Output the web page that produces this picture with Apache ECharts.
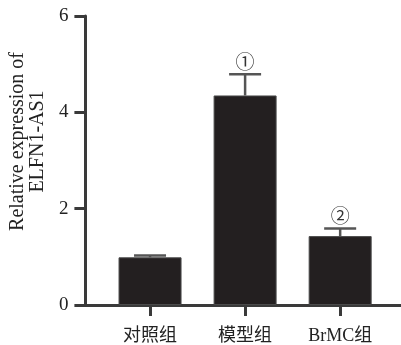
<!DOCTYPE html>
<html>
<head>
<meta charset="utf-8">
<style>html,body{margin:0;padding:0;background:#fff;}#c{width:401px;height:345px;}</style>
<script src="https://cdn.jsdelivr.net/npm/echarts@6/dist/echarts.min.js"></script>
</head>
<body>
<div id="c"></div>
<script>
const categories = ['对照组', '模型组', 'BrMC组'];
const values = [0.99, 4.35, 1.43];
const errors = [0.04, 0.44, 0.16];
const marks = ['', '①', '②'];
const yTicks = [0, 2, 4, 6];

const serif = '"Liberation Serif", "Noto Sans CJK SC", serif';
const axisColor = '#3a3a3a';

const chart = echarts.init(document.getElementById('c'), null, {renderer: 'canvas'});
chart.setOption({
  animation: false,
  backgroundColor: '#ffffff',
  grid: {left: 83, right: 0, top: 16, bottom: 39},
  xAxis: {
    type: 'value',
    min: -0.68,
    max: 2.64,
    axisLine: {show: true, onZero: false, lineStyle: {color: axisColor, width: 3}},
    axisTick: {show: true, customValues: [0, 1, 2], length: 11, lineStyle: {color: axisColor, width: 3}},
    axisLabel: {
      customValues: [0, 1, 2],
      formatter: v => categories[Math.round(v)],
      margin: 22, fontSize: 18, color: '#222', fontFamily: serif
    },
    splitLine: {show: false}
  },
  yAxis: {
    type: 'value',
    min: 0, max: 6, interval: 2,
    name: 'Relative expression of\nELFN1-AS1',
    nameLocation: 'middle',
    nameRotate: 90,
    nameGap: 19,
    nameTextStyle: {fontSize: 20, lineHeight: 20, color: '#222', fontFamily: serif, padding: [0, 0, 0, 38]},
    axisLine: {show: true, onZero: false, lineStyle: {color: axisColor, width: 3}},
    axisTick: {show: true, length: 11, lineStyle: {color: axisColor, width: 3}},
    axisLabel: {
      formatter: v => (yTicks.indexOf(v) >= 0 ? String(v) : ''),
      margin: 17, fontSize: 19, color: '#222', fontFamily: serif
    },
    splitLine: {show: false}
  },
  series: [
    {
      type: 'bar',
      barWidth: 63,
      data: values.map((v, i) => [i, v]),
      itemStyle: {color: '#231f20', borderColor: '#4a4a4a', borderWidth: 1}
    },
    {
      type: 'custom',
      data: values.map((v, i) => [i, v, errors[i]]),
      z: 3,
      renderItem: function (params, api) {
        const x = api.value(0), v = api.value(1), e = api.value(2);
        const base = api.coord([x, v]);
        const top = api.coord([x, v + e]);
        const half = 16;
        const style = {stroke: '#555', lineWidth: 2.5};
        const children = [
          {type: 'line', shape: {x1: base[0], y1: base[1], x2: top[0], y2: top[1]}, style: style},
          {type: 'line', shape: {x1: top[0] - half, y1: top[1], x2: top[0] + half, y2: top[1]}, style: style}
        ];
        const m = marks[params.dataIndex];
        if (m) {
          children.push({
            type: 'text',
            style: {
              text: m, x: top[0], y: top[1] - 13,
              align: 'center', verticalAlign: 'middle',
              fontSize: 19, fill: '#333', fontFamily: '"Noto Sans CJK SC", "DejaVu Sans", sans-serif'
            }
          });
        }
        return {type: 'group', children: children};
      }
    }
  ]
});
</script>
</body>
</html>
